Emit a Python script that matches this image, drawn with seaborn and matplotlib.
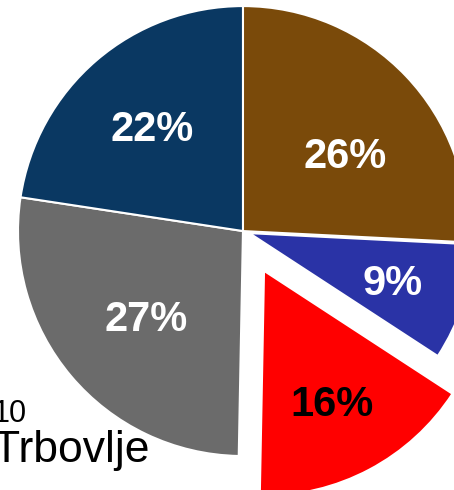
import numpy as np
import matplotlib
matplotlib.use("Agg")
import matplotlib.pyplot as plt
import seaborn as sns

# shares (clockwise from 12 o'clock)
shares = [25.8, 8.4, 16.1, 27.1, 22.6]
labels = ["26%", "9%", "16%", "27%", "22%"]
colors = ["#7A4A0A", "#2A33A6", "#FF0000", "#6B6B6B", "#0A3862"]
label_colors = ["white", "white", "black", "white", "white"]
explode = [0, 0.03, 0.2, 0, 0]
label_dist = [0.57, 0.67, 0.65, 0.57, 0.62]
label_nudge = [-6, 0, 0, 1, 0]   # degrees, labels not exactly on the mid angle

sns.set_theme(style="white")
plt.rcParams["font.family"] = ["Liberation Sans", "DejaVu Sans"]

fig = plt.figure(figsize=(4.54, 4.9), dpi=100)
ax = fig.add_axes([0, 0, 1, 1])

wedges, _ = ax.pie(shares, colors=colors, explode=explode, startangle=90,
                   counterclock=False, radius=1,
                   wedgeprops=dict(edgecolor="white", linewidth=1.5))

for w, lab, col, d, nd in zip(wedges, labels, label_colors, label_dist, label_nudge):
    mid = np.deg2rad((w.theta1 + w.theta2) / 2 + nd)
    cx, cy = w.center
    ax.text(cx + d * w.r * np.cos(mid), cy + d * w.r * np.sin(mid), lab,
            ha="center", va="center_baseline", color=col, fontsize=30,
            fontweight="bold")

# pie is cropped by the figure edges, as in the reference
ax.set_xlim(-1.08, 0.938)
ax.set_ylim(-1.151, 1.027)
ax.set_aspect("auto")
ax.axis("off")

fig.text(27 / 454, 1 - 422 / 490, "10", ha="right", va="baseline",
         fontsize=22, color="black")
fig.text(150 / 454, 1 - 462 / 490, "Trbovlje", ha="right", va="baseline",
         fontsize=32, color="black")

fig.savefig("out.png", dpi=100)
